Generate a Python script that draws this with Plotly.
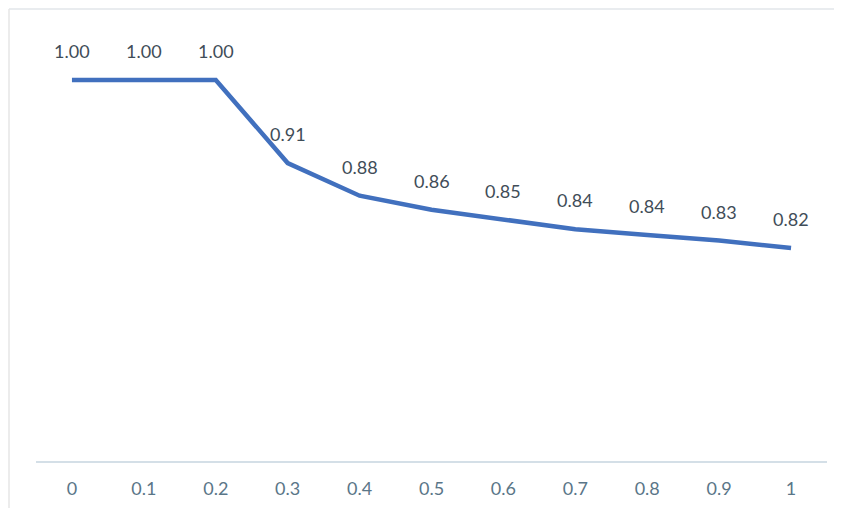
import plotly.graph_objects as go

categories = ["0", "0.1", "0.2", "0.3", "0.4", "0.5", "0.6", "0.7", "0.8", "0.9", "1"]
values = [1.00, 1.00, 1.00, 0.911, 0.876, 0.861, 0.850, 0.840, 0.834, 0.828, 0.820]
labels = ["1.00", "1.00", "1.00", "0.91", "0.88", "0.86", "0.85", "0.84", "0.84", "0.83", "0.82"]

W, H = 842, 508
OFF = 8  # page body offset
L, R, T, B = 36 - OFF, 842 - 827 + OFF, 30 - OFF, 508 - 462 + OFF
PW, PH = W - L - R, H - T - B

fig = go.Figure()
xs = list(range(len(categories)))
fig.add_trace(go.Scatter(
    x=xs, y=values, mode="lines",
    line=dict(color="#4170BE", width=4.5),
    hoverinfo="skip", showlegend=False,
))

for x, v, t in zip(xs, values, labels):
    fig.add_annotation(x=x, y=v, text=t, showarrow=False, yshift=29,
                       font=dict(family="Lato", size=18, color="#3f4d58"))

fig.update_xaxes(
    range=[-0.5, 10.5], tickmode="array", tickvals=xs, ticktext=categories,
    showgrid=False, zeroline=False, showline=False, ticks="",
    tickfont=dict(family="Lato", size=18, color="#5a7688"),
    fixedrange=True,
)
fig.update_yaxes(range=[0.5906, 1.0536], showgrid=False, zeroline=False,
                 showticklabels=False, showline=False, fixedrange=True)

# category axis line
fig.add_shape(type="line", xref="paper", yref="paper", x0=0, x1=1, y0=0, y1=0,
              line=dict(color="#c6d5df", width=1.5))
# faint chart frame: top and left edges only
fx0 = (1 - L) / PW
fy1 = 1 + (T - 1) / PH
fx1 = (W - L) / PW
fy0 = -(B) / PH
fig.add_shape(type="line", xref="paper", yref="paper", x0=fx0, x1=fx1, y0=fy1, y1=fy1,
              line=dict(color="#e2e6ea", width=1.5), layer="below")
fig.add_shape(type="line", xref="paper", yref="paper", x0=fx0, x1=fx0, y0=fy0, y1=fy1,
              line=dict(color="#e6e6e6", width=1.5), layer="below")

fig.update_layout(
    width=W, height=H,
    margin=dict(l=L, r=R, t=T, b=B),
    paper_bgcolor="white", plot_bgcolor="white",
    xaxis_ticklabelstandoff=14,
)
fig.write_html("out.html")
